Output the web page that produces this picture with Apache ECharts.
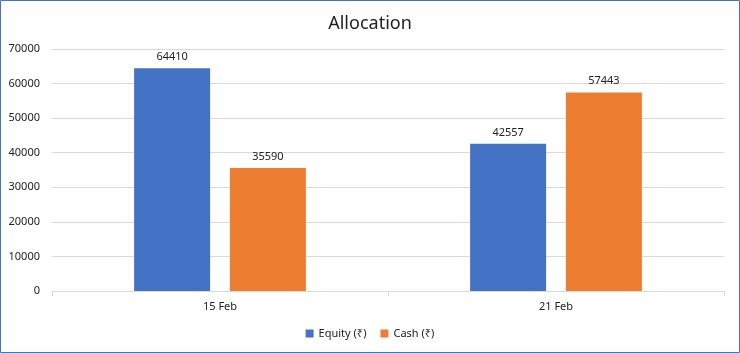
<!DOCTYPE html>
<html>
<head>
<meta charset="utf-8">
<script src="https://cdn.jsdelivr.net/npm/echarts@6/dist/echarts.min.js"></script>
<style>
  html, body { margin: 0; padding: 0; background: #fff; }
  #main { width: 740px; height: 353px; }
</style>
</head>
<body>
<div id="main"></div>
<script>
var categories = ['15 Feb', '21 Feb'];
var equity = [64410, 42557];
var cash = [35590, 57443];

var myChart = echarts.init(document.getElementById('main'));
var font = '"Noto Sans", "DejaVu Sans", sans-serif';

var option = {
    backgroundColor: '#fff',
    animation: false,
    title: {
        text: 'Allocation',
        left: 'center',
        top: 10,
        textStyle: { fontFamily: font, fontSize: 18, fontWeight: 'normal', color: '#222' }
    },
    graphic: [{
        type: 'rect',
        shape: { x: 0.5, y: 0.5, width: 739, height: 352 },
        style: { fill: 'none', stroke: '#4472C4', lineWidth: 1 },
        silent: true
    }],
    legend: {
        bottom: 9,
        left: 'center',
        itemWidth: 8,
        itemHeight: 8,
        itemGap: 14,
        icon: 'rect',
        textStyle: { fontFamily: font, fontSize: 11, color: '#222' },
        data: ['Equity (₹)', 'Cash (₹)']
    },
    grid: { left: 52, right: 16, top: 49, bottom: 62, containLabel: false },
    xAxis: {
        type: 'category',
        data: categories,
        axisLine: { lineStyle: { color: '#d9d9d9' } },
        axisTick: { show: true, length: 5, lineStyle: { color: '#d9d9d9' } },
        axisLabel: { fontFamily: font, fontSize: 11, color: '#222', margin: 10 }
    },
    yAxis: {
        type: 'value',
        min: 0,
        max: 70000,
        interval: 10000,
        axisLine: { show: false },
        axisTick: { show: false },
        splitLine: { lineStyle: { color: '#d9d9d9' } },
        axisLabel: {
            fontFamily: font, fontSize: 11, color: '#222', margin: 12,
            formatter: function (v) { return String(v); }
        }
    },
    series: [
        {
            name: 'Equity (₹)',
            type: 'bar',
            data: equity,
            barWidth: 76,
            barGap: '26%',
            itemStyle: { color: '#4472C4' },
            label: { show: true, position: 'top', distance: 6, fontFamily: font, fontSize: 11, color: '#222' }
        },
        {
            name: 'Cash (₹)',
            type: 'bar',
            data: cash,
            barWidth: 76,
            itemStyle: { color: '#ED7D31' },
            label: { show: true, position: 'top', distance: 6, fontFamily: font, fontSize: 11, color: '#222' }
        }
    ]
};

myChart.setOption(option);
</script>
</body>
</html>
